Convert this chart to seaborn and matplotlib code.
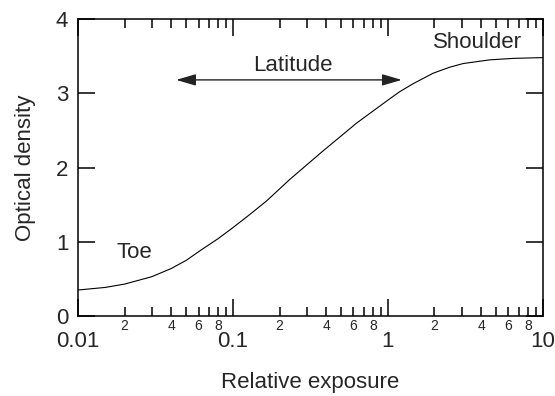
import numpy as np
import pandas as pd
import matplotlib
matplotlib.use('Agg')
import matplotlib.pyplot as plt
import seaborn as sns
from matplotlib.ticker import LogLocator, FixedLocator, FuncFormatter

# characteristic curve
exposure = [0.01, 0.015, 0.02, 0.03, 0.04, 0.05, 0.0614, 0.08, 0.1, 0.129, 0.165,
            0.233, 0.38, 0.63, 1.02, 1.19, 1.46, 1.96, 2.5, 3.06, 4.55, 6.5, 10]
density = [0.35, 0.385, 0.43, 0.53, 0.64, 0.75, 0.88, 1.04, 1.19, 1.37, 1.55,
           1.84, 2.22, 2.60, 2.92, 3.02, 3.13, 3.27, 3.35, 3.40, 3.45, 3.47, 3.48]

major_ticks = [0.01, 0.1, 1, 10]
major_labels = ['0.01', '0.1', '1', '10']
minor_labelled = [2, 4, 6, 8]

latitude = (0.043, 1.23, 3.18)
annotations = [('Latitude', 0.245, 3.37, 'center'),
               ('Toe', 0.0176, 0.86, 'left'),
               ('Shoulder', 1.96, 3.69, 'left')]

sns.set_style('ticks')
plt.rcParams['font.family'] = ['Liberation Sans', 'DejaVu Sans']

df = pd.DataFrame({'exposure': exposure, 'density': density})

fig = plt.figure(figsize=(5.55, 3.96), dpi=100)
ax = fig.add_axes([0.1405, 0.202, 0.8375, 0.750])

sns.lineplot(data=df, x='exposure', y='density', ax=ax, color='black', lw=0.8)

ax.set_xscale('log')
ax.set_xlim(0.01, 10)
ax.set_ylim(0, 4)

ax.xaxis.set_major_locator(FixedLocator(major_ticks))
ax.xaxis.set_major_formatter(FuncFormatter(lambda v, p: major_labels[major_ticks.index(v)] if v in major_ticks else ''))
ax.xaxis.set_minor_locator(LogLocator(base=10, subs=np.arange(2, 10), numticks=20))


def minor_fmt(v, pos):
    m = int(round(v / 10 ** np.floor(np.log10(v) + 1e-9)))
    return str(m) if m in minor_labelled else ''


ax.xaxis.set_minor_formatter(FuncFormatter(minor_fmt))
ax.set_yticks([0, 1, 2, 3, 4])

ax.tick_params(axis='both', which='major', direction='in', length=12, width=1.1,
               top=True, right=True, labelsize=16, color='black')
ax.tick_params(axis='x', which='major', pad=11)
ax.tick_params(axis='y', which='major', pad=7)
ax.tick_params(axis='x', which='minor', direction='in', length=6.5, width=1.1,
               top=True, labelsize=10, pad=2, color='black')

for s in ax.spines.values():
    s.set_linewidth(1.1)
    s.set_color('black')

ax.set_xlabel('Relative exposure', fontsize=16, labelpad=14)
ax.set_ylabel('Optical density', fontsize=16, labelpad=14)

ax.annotate('', xy=(latitude[0], latitude[2]), xytext=(latitude[1], latitude[2]),
            arrowprops=dict(arrowstyle='<|-|>,head_length=1.2,head_width=0.35',
                            color='#222222', lw=1.0, shrinkA=0, shrinkB=0,
                            mutation_scale=10))

for txt, x, y, ha in annotations:
    ax.text(x, y, txt, fontsize=16, ha=ha, va='center')

fig.savefig('out.png', dpi=100)
